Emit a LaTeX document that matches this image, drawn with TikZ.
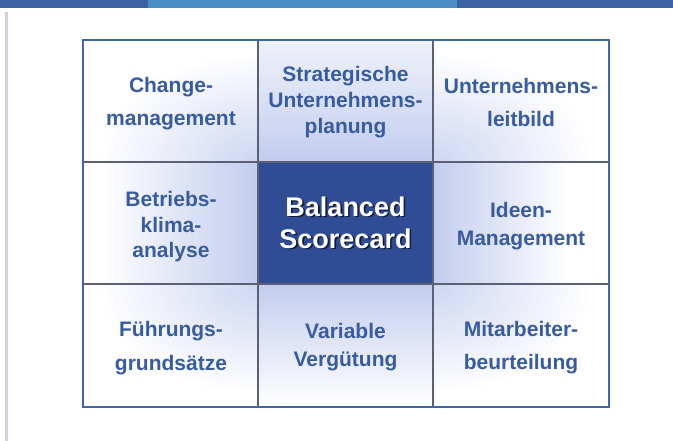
\documentclass[tikz,border=0pt]{standalone}
\usepackage{fontspec}
\setmainfont{Liberation Sans}
\definecolor{barblue}{RGB}{60,98,165}
\definecolor{barteal}{RGB}{74,142,200}
\definecolor{sideline}{RGB}{205,211,226}
\definecolor{gridblue}{RGB}{62,102,170}
\definecolor{innerline}{RGB}{92,96,116}
\definecolor{txtblue}{RGB}{55,92,162}
\definecolor{coreblue}{RGB}{48,76,148}
\definecolor{coreshadow}{RGB}{18,26,60}
\definecolor{glow}{RGB}{194,204,238}
% white word with a dark drop shadow behind it
\newcommand{\shadowword}[1]{\leavevmode\rlap{\hspace{1.6pt}\raisebox{-1.6pt}{\textcolor{coreshadow}{#1}}}#1}
\begin{document}
\begin{tikzpicture}[x=1pt,y=-1pt,
  cell/.style={inner sep=0pt, align=center, text=txtblue,
    font=\bfseries\fontsize{21}{#1}\selectfont},
  coretext/.style={inner sep=0pt, align=center, text=white,
    font=\bfseries\fontsize{27}{32}\selectfont},
  gridline/.style={innerline, line width=1.1pt},
  frame/.style={gridblue, line width=2pt}]
\useasboundingbox (0,0) rectangle (673,441);
\fill[white] (0,0) rectangle (673,441);

% header bar and left margin rule
\fill[barblue] (0,0) rectangle (673,8);
\fill[barteal] (148,0) rectangle (457,8.5);
\draw[sideline, line width=3pt] (6.5,12) -- (6.5,441);

% soft glow around the central field
\shade[left color=white, right color=glow] (100,162) rectangle (258,284);
\shade[left color=glow, right color=white] (433,162) rectangle (570,284);
\shade[top color=white!75!glow, bottom color=glow] (258,40) rectangle (433,162);
\shade[top color=glow, bottom color=white] (258,284) rectangle (433,405);
\begin{scope}
  \clip (83,40) rectangle (258,162);
  \shade[inner color=glow!80!white, outer color=white] (98,52) rectangle (418,272);
\end{scope}
\begin{scope}
  \clip (433,40) rectangle (609,162);
  \shade[inner color=glow!80!white, outer color=white] (273,52) rectangle (593,272);
\end{scope}
\begin{scope}
  \clip (83,284) rectangle (258,407);
  \shade[inner color=glow!80!white, outer color=white] (98,174) rectangle (418,394);
\end{scope}
\begin{scope}
  \clip (433,284) rectangle (609,407);
  \shade[inner color=glow!80!white, outer color=white] (273,174) rectangle (593,394);
\end{scope}

% central field
\fill[coreblue] (258,162) rectangle (433,284);

% grid
\draw[gridline] (258,40) -- (258,407);
\draw[gridline] (433,40) -- (433,407);
\draw[gridline] (83,162) -- (609,162);
\draw[gridline] (83,284) -- (609,284);
\draw[frame] (83,40) rectangle (609,407);

% labels
\node[cell=33] (change) at (171,104) {Change-\\management};
\node[cell=26] (strat) at (345.5,102.5) {Strategische\\Unternehmens-\\planung};
\node[cell=33] (leitbild) at (521,102) {Unternehmens-\\leitbild};
\node[cell=25.5] (klima) at (171,227) {Betriebs-\\klima-\\analyse};
\node[coretext] (bsc) at (345.5,223.2) {\shadowword{Balanced}\\\shadowword{Scorecard}};
\node[cell=28] (ideen) at (521,226.5) {Ideen-\\Management};
\node[cell=34] (fuehrung) at (171,348.5) {Führungs-\\grundsätze};
\node[cell=28] (verguetung) at (345.5,347.5) {Variable\\Vergütung};
\node[cell=33] (beurteilung) at (521,348) {Mitarbeiter-\\beurteilung};
\end{tikzpicture}
\end{document}
